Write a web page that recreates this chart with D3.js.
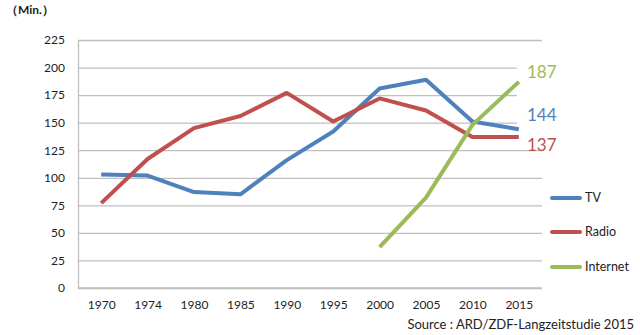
<!DOCTYPE html>
<html><head><meta charset="utf-8">
<script src="https://cdn.jsdelivr.net/npm/d3@7"></script>
<style>body{margin:0;background:#fff}svg{display:block}text{font-family:Lato,"Open Sans",sans-serif}</style>
</head><body><svg id="c" width="640" height="335"></svg>
<script>
const years = ["1970","1974","1980","1985","1990","1995","2000","2005","2010","2015"];
const tvValues = [103,102,87,85,116,142,181,189,151,144];
const radioValues = [77,117,145,156,177,151,172,161,137,137];
const internetValues = [null,null,null,null,null,null,37,82,148,187];
const yTicks = [0,25,50,75,100,125,150,175,200,225];
const seriesNames = ["TV","Radio","Internet"];
const colors = ["#4F81BD","#C0504D","#9BBB59"];
const endLabels = ["144","137","187"];

const svg = d3.select("#c");
const L=78,R=542,T=40,B=288;
const x = d3.scalePoint().domain(years).range([L,R]).padding(0.5);
const y = d3.scaleLinear().domain([0,225]).range([B,T]);

// gridlines
svg.append("g").attr("transform",`translate(${L},0)`)
  .call(d3.axisRight(y).tickValues(yTicks).tickSize(R-L).tickFormat(""))
  .call(g=>g.select(".domain").remove())
  .call(g=>g.selectAll("line").attr("stroke","#BFBFBF").attr("stroke-width",1.3));
// white box behind data labels
svg.append("rect").attr("x",517).attr("y",y(205)).attr("width",30).attr("height",y(130)-y(205)).attr("fill","#fff");
// axes
svg.append("g").attr("transform",`translate(${L},0)`)
  .call(d3.axisLeft(y).tickValues(yTicks).tickSize(0).tickPadding(13))
  .call(g=>g.select(".domain").attr("stroke","#BFBFBF").attr("stroke-width",1.3))
  .call(g=>g.selectAll("text").attr("font-size",12).attr("fill","#222"));
svg.append("g").attr("transform",`translate(0,${B})`)
  .call(d3.axisBottom(x).tickSize(0).tickPadding(12))
  .call(g=>g.select(".domain").attr("stroke","#BFBFBF").attr("stroke-width",1.3).attr("d",`M${L},0H${R}`))
  .call(g=>g.selectAll("text").attr("font-size",12).attr("fill","#222"));

const all=[tvValues,radioValues,internetValues];
const line=d3.line().defined(d=>d.v!=null).x(d=>x(d.k)).y(d=>y(d.v));
all.forEach((vals,i)=>{
  svg.append("path").datum(years.map((k,j)=>({k,v:vals[j]})))
    .attr("d",line).attr("fill","none").attr("stroke",colors[i]).attr("stroke-width",4).attr("stroke-linejoin","round");
});
// end labels
const ly=[115,145,72];
endLabels.forEach((t,i)=>{
  svg.append("text").attr("x",527).attr("y",ly[i]).attr("dy","0.35em").attr("font-size",17).attr("fill",colors[i]).text(t);
});
// legend
const legY=[198,232,267];
seriesNames.forEach((n,i)=>{
  svg.append("line").attr("x1",552).attr("x2",580).attr("y1",legY[i]).attr("y2",legY[i]).attr("stroke",colors[i]).attr("stroke-width",4).attr("stroke-linecap","round");
  svg.append("text").attr("x",585).attr("y",legY[i]).attr("dy","0.35em").attr("font-size",12.5).attr("fill","#222").text(n);
});
svg.append("text").attr("x",6).attr("y",14).attr("font-size",12).attr("font-weight","bold").attr("fill","#222").text("（Min.）");
svg.append("text").attr("x",634).attr("y",329).attr("text-anchor","end").attr("font-size",13).attr("fill","#222").text("Source : ARD/ZDF-Langzeitstudie 2015");
</script></body></html>
